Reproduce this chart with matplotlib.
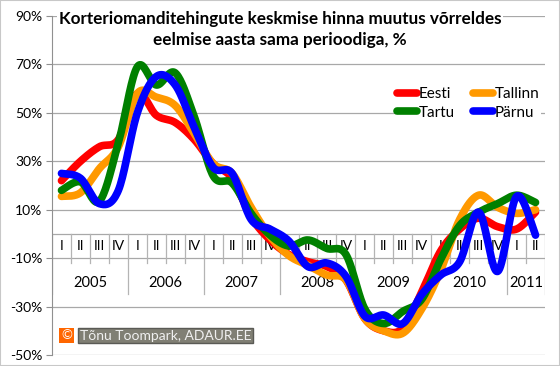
import numpy as np
import matplotlib
matplotlib.use("Agg")
import matplotlib.pyplot as plt
from matplotlib.patches import Rectangle

plt.rcParams["font.family"] = ["Lato", "DejaVu Sans"]

years = ["2005", "2006", "2007", "2008", "2009", "2010", "2011"]
quarters = ["I", "II", "III", "IV"] * 6 + ["I", "II"]

eesti = [22, 30, 36, 39, 58, 49, 46, 39, 29, 23, 7, -2.5, -8.5, -11.5, -13.5, -19,
         -35, -40, -39, -24, -7, 2, 6.5, 3, 2, 9]
tallinn = [15.5, 17, 27, 36, 58, 56.5, 53, 41.5, 29, 25, 11, -1, -9, -13, -17, -19,
           -35, -40, -41, -31, -15, 6, 16, 11, 8.5, 10]
tartu = [18, 21.5, 13.5, 37.5, 69, 61.5, 66.5, 48.5, 24, 21, 8.5, -0.5, -5, -2.5, -6, -8.5,
         -31, -37, -32, -27, -10.5, 3.5, 9, 12.5, 16, 13]
parnu = [25, 23, 12.5, 18, 50, 65, 61.5, 44, 27.5, 25, 6, 2, -3, -13.5, -12, -17.5,
         -34, -33.5, -37, -25, -17, -11.5, 9, -15.5, 15.5, -0.5]

series = [("Eesti", eesti, "#ff0000"), ("Tallinn", tallinn, "#ff9900"),
          ("Tartu", tartu, "#008000"), ("Pärnu", parnu, "#0000ff")]


def smooth(x, y, n=20):
    # Excel-like smoothed line (Bezier through the points)
    p = np.column_stack([x, y]).astype(float)
    p = np.vstack([p[0], p, p[-1]])
    out = []
    t = np.linspace(0, 1, n)[:, None]
    for i in range(1, len(p) - 2):
        a, b = p[i], p[i + 1]
        c1 = a + (p[i + 1] - p[i - 1]) / 6
        c2 = b - (p[i + 2] - p[i]) / 6
        seg = (1 - t) ** 3 * a + 3 * (1 - t) ** 2 * t * c1 + 3 * (1 - t) * t ** 2 * c2 + t ** 3 * b
        out.append(seg if i == 1 else seg[1:])
    out = np.vstack(out)
    return out[:, 0], out[:, 1]


fig = plt.figure(figsize=(5.6, 3.66), dpi=100)
fig.patches.append(Rectangle((0, 0), 1, 1, transform=fig.transFigure, fill=False,
                             edgecolor="#c8c8c8", lw=1.5))
ax = fig.add_axes([52 / 560, 1 - 355 / 366, 493 / 560, 339 / 366])

x = np.arange(len(quarters))
ax.set_xlim(-0.5, len(quarters) - 0.5)
ax.set_ylim(-50, 90)
ax.set_yticks(np.arange(-50, 91, 20))
ax.set_yticklabels([f"{v}%" for v in range(-50, 91, 20)], fontsize=10)
ax.set_xticks([])
for s in ["top", "right", "bottom"]:
    ax.spines[s].set_visible(False)
ax.spines["left"].set_color("#909090")
ax.tick_params(axis="y", color="#909090", length=4, pad=3)
ax.yaxis.grid(True, color="#a8a8a8", lw=0.9)
ax.set_axisbelow(True)

# category axis at zero
ax.axhline(0, color="#a8a8a8", lw=0.9, zorder=1)
for i in range(len(quarters) + 1):
    if i % 4 == 0 or i == len(quarters):
        ax.plot([i - 0.5, i - 0.5], [0, -25], color="#b4b4b4", lw=0.9, zorder=1)
    else:
        ax.plot([i - 0.5, i - 0.5], [0, -11.8], color="#b4b4b4", lw=0.9, zorder=1)
for i, q in enumerate(quarters):
    ax.text(i, -5, q, ha="center", va="center", fontsize=10, zorder=1)
for k, yr in enumerate(years):
    start = 4 * k
    end = min(4 * k + 4, len(quarters))
    ax.text((start + end - 1) / 2, -20.2, yr, ha="center", va="center", fontsize=10.5, zorder=1)

lines = {}
for name, vals, col in series:
    sx, sy = smooth(x, vals)
    lines[name], = ax.plot(sx, sy, color=col, lw=5.5, solid_capstyle="round", label=name, zorder=3)

order = ["Eesti", "Tartu", "Tallinn", "Pärnu"]
leg = ax.legend([lines[n] for n in order], order, ncol=2, loc="upper left",
                bbox_to_anchor=(388 / 560, 1 - 78 / 366),
                bbox_transform=fig.transFigure, frameon=True, fancybox=False,
                edgecolor="none", facecolor="white", framealpha=1, fontsize=11,
                handlelength=1.3, handletextpad=0.1, columnspacing=1.2,
                labelspacing=0.3, borderpad=0.1)
for h in leg.get_lines():
    h.set_linewidth(5.5)

fig.text(0.5, 1 - 29.5 / 366,
         "Korteriomanditehingute keskmise hinna muutus võrreldes\neelmise aasta sama perioodiga, %",
         ha="center", va="center", fontsize=12.3, fontweight="bold", linespacing=1.45,
         bbox=dict(facecolor="white", edgecolor="none", pad=1))

# copyright box
fig.text(61 / 560, 1 - 335.5 / 366, "©", ha="left", va="center", fontsize=9.5, color="white",
         bbox=dict(facecolor="#ff6600", edgecolor="none", pad=1.2))
fig.text(80 / 560, 1 - 335.5 / 366, "Tõnu Toompark, ADAUR.EE", ha="left", va="center",
         fontsize=10, color="#f0f0f0",
         bbox=dict(facecolor="#807f74", edgecolor="#5a5a55", pad=1.3))

fig.savefig("out.png", dpi=100)
